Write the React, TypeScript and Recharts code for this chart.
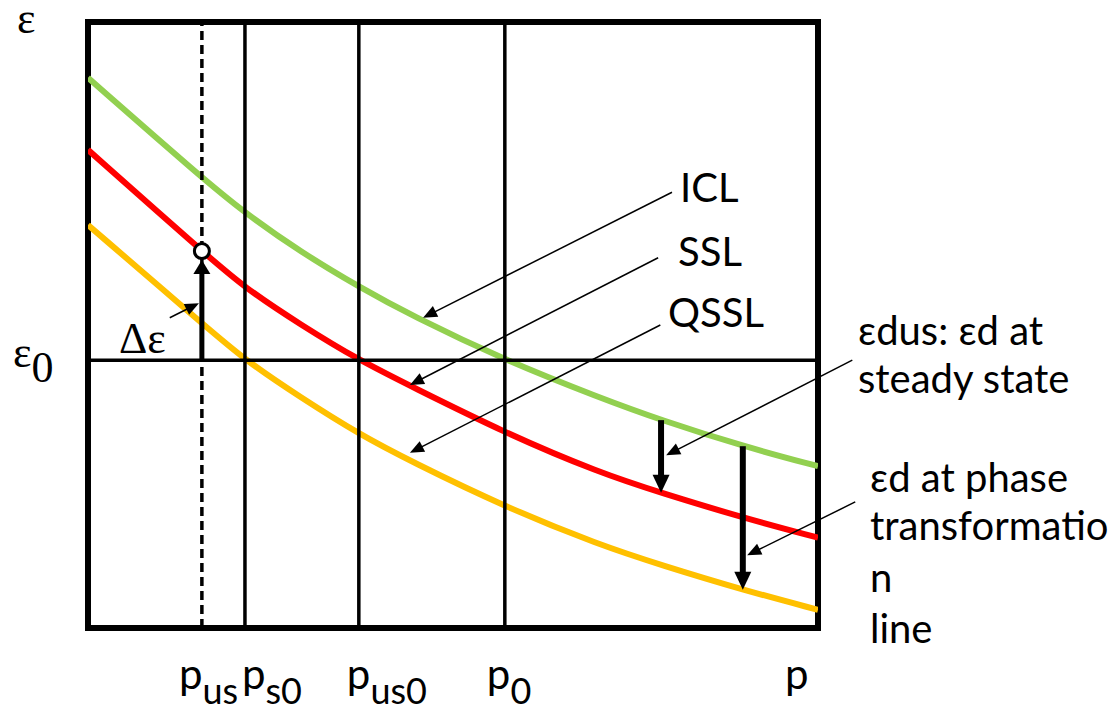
import React from 'react';
import {
  ComposedChart,
  Line,
  XAxis,
  YAxis,
  ReferenceLine,
  ReferenceArea,
  ReferenceDot,
} from 'recharts';

// ---- data (p axis 0..100, ε axis 0..100, schematic units) ----
const pSamples = [0, 15.6, 21.5, 29.2, 37.1, 44.4, 57.1, 70.1, 78.5, 89.7, 100];
const iclValues = [90.8, 74.3, 68.5, 62.0, 56.3, 51.5, 44.2, 38.0, 34.3, 30.0, 26.7];
const sslValues = [78.9, 62.2, 56.1, 50.0, 44.2, 39.8, 32.2, 25.6, 22.3, 18.2, 14.9];
const qsslValues = [66.5, 50.3, 44.2, 38.0, 32.0, 27.4, 20.0, 13.7, 10.4, 6.3, 3.0];

const pUs = 15.6;
const pS0 = 21.5;
const pUs0 = 37.1;
const p0 = 57.1;
const pMax = 100;
const eps0 = 44.2;

const xTickValues = [pUs, pS0, pUs0, p0, pMax];
const xTickMain = ['p', 'p', 'p', 'p', 'p'];
const xTickSub = ['us', 's0', 'us0', '0', ''];
const xTickShift = [-23, -3, -12, -18, -33];

// thin annotation pointers: [p, ε] start and tip
const pointerFrom = [
  [80.0, 71.9],
  [78.1, 61.1],
  [78.4, 50.0],
  [104.7, 44.2],
  [105.1, 20.8],
  [11.2, 51.2],
];
const pointerTo = [
  [45.9, 51.2],
  [44.1, 40.1],
  [44.1, 28.9],
  [79.2, 28.5],
  [90.3, 12.0],
  [15.2, 53.6],
];

const toRows = (vals: number[]) => pSamples.map((p, i) => ({ p, e: vals[i] }));
const iclData = toRows(iclValues);
const sslData = toRows(sslValues);
const qsslData = toRows(qsslValues);

const SANS = "Lato, 'Open Sans', 'DejaVu Sans', sans-serif";
const SERIF = "'Liberation Serif', 'DejaVu Serif', serif";

const makeArrow =
  (headLen: number, headW: number, width: number, gap = 0) =>
  (props: any) => {
    const { x1, y1, x2, y2 } = props;
    const dx = x2 - x1;
    const dy = y2 - y1;
    const len = Math.hypot(dx, dy) || 1;
    const ux = dx / len;
    const uy = dy / len;
    const tx = x2 - ux * gap;
    const ty = y2 - uy * gap;
    const bx = tx - ux * headLen;
    const by = ty - uy * headLen;
    const px = -uy;
    const py = ux;
    return (
      <g>
        <line
          x1={x1}
          y1={y1}
          x2={bx + ux * 2}
          y2={by + uy * 2}
          stroke="#000"
          strokeWidth={width}
        />
        <polygon
          points={`${tx},${ty} ${bx + (px * headW) / 2},${by + (py * headW) / 2} ${
            bx - (px * headW) / 2
          },${by - (py * headW) / 2}`}
          fill="#000"
        />
      </g>
    );
  };

const thickArrow = makeArrow(18, 17, 6);
const thickArrowGap = makeArrow(14, 17, 5, 9);
const thinArrow = makeArrow(14, 12, 1.5);

const XTick = (props: any) => {
  const { x, y, payload } = props;
  const i = xTickValues.indexOf(payload.value);
  if (i < 0) return null;
  return (
    <text x={x + xTickShift[i]} y={y + 61} fontFamily={SANS} fontSize={42} fill="#000">
      {xTickMain[i]}
      {xTickSub[i] ? (
        <tspan fontSize={36} dy={15}>
          {xTickSub[i]}
        </tspan>
      ) : null}
    </text>
  );
};

const YTick = (props: any) => {
  const { x, y } = props;
  return (
    <text x={x - 75} y={y + 7} fontFamily={SERIF} fontSize={44} fill="#000">
      ε
      <tspan dy={15}>0</tspan>
    </text>
  );
};

export default function App() {
  return (
    <div style={{ position: 'relative', width: 1117, height: 712, background: '#fff' }}>
      <style>{'body{margin:0;background:#fff}'}</style>
      <ComposedChart
        width={1117}
        height={712}
        margin={{ top: 22, right: 299, bottom: 0, left: 0 }}
      >
        <XAxis
          type="number"
          dataKey="p"
          domain={[0, 100]}
          ticks={xTickValues}
          interval={0}
          allowDataOverflow
          height={84}
          axisLine={false}
          tickLine={false}
          tickSize={0}
          tickMargin={0}
          tick={XTick}
        />
        <YAxis
          type="number"
          domain={[0, 100]}
          ticks={[eps0]}
          interval={0}
          allowDataOverflow
          width={88}
          axisLine={false}
          tickLine={false}
          tickSize={0}
          tickMargin={0}
          tick={YTick}
        />
        <Line
          data={iclData}
          dataKey="e"
          type="basis"
          stroke="#92D050"
          strokeWidth={6}
          dot={false}
          activeDot={false}
          isAnimationActive={false}
        />
        <Line
          data={sslData}
          dataKey="e"
          type="basis"
          stroke="#FF0000"
          strokeWidth={6}
          dot={false}
          activeDot={false}
          isAnimationActive={false}
        />
        <Line
          data={qsslData}
          dataKey="e"
          type="basis"
          stroke="#FFC000"
          strokeWidth={6}
          dot={false}
          activeDot={false}
          isAnimationActive={false}
        />
        <ReferenceLine x={pUs} stroke="#000" strokeWidth={3.5} strokeDasharray="9 5" ifOverflow="visible" />
        <ReferenceLine x={pS0} stroke="#000" strokeWidth={3.5} ifOverflow="visible" />
        <ReferenceLine x={pUs0} stroke="#000" strokeWidth={3.5} ifOverflow="visible" />
        <ReferenceLine x={p0} stroke="#000" strokeWidth={3.5} ifOverflow="visible" />
        <ReferenceLine y={eps0} stroke="#000" strokeWidth={3.5} ifOverflow="visible" />
        <ReferenceArea
          x1={0}
          x2={100}
          y1={0}
          y2={100}
          fill="none"
          fillOpacity={0}
          stroke="#000"
          strokeWidth={6}
          ifOverflow="visible"
        />
        {/* Δε arrow up to the SSL point */}
        <ReferenceLine
          segment={[
            { x: pUs, y: eps0 },
            { x: pUs, y: sslValues[1] },
          ]}
          ifOverflow="visible"
          shape={thickArrowGap}
        />
        {/* εdus arrow ICL -> SSL */}
        <ReferenceLine
          segment={[
            { x: pSamples[8], y: iclValues[8] },
            { x: pSamples[8], y: sslValues[8] },
          ]}
          ifOverflow="visible"
          shape={thickArrow}
        />
        {/* εd at phase transformation ICL -> QSSL */}
        <ReferenceLine
          segment={[
            { x: pSamples[9], y: iclValues[9] },
            { x: pSamples[9], y: qsslValues[9] },
          ]}
          ifOverflow="visible"
          shape={thickArrow}
        />
        {pointerFrom.map((f, i) => (
          <ReferenceLine
            key={`ptr-${i}`}
            segment={[
              { x: f[0], y: f[1] },
              { x: pointerTo[i][0], y: pointerTo[i][1] },
            ]}
            ifOverflow="visible"
            shape={thinArrow}
          />
        ))}
        <ReferenceDot
          x={pUs}
          y={sslValues[1]}
          r={7.5}
          fill="#fff"
          stroke="#000"
          strokeWidth={3}
          ifOverflow="visible"
        />
      </ComposedChart>
      <svg
        width={1117}
        height={712}
        style={{ position: 'absolute', left: 0, top: 0, pointerEvents: 'none' }}
      >
        <text x={17} y={33} fontFamily={SERIF} fontSize={44} fill="#000">ε</text>
        <text x={119} y={353} fontFamily={SERIF} fontSize={44} fill="#000">Δε</text>
        <g fontFamily={SANS} fontSize={40} fill="#000">
          <text x={680} y={202}>ICL</text>
          <text x={678} y={266}>SSL</text>
          <text x={668} y={327}>QSSL</text>
          <text x={858} y={345}>εdus: εd at</text>
          <text x={858} y={393}>steady state</text>
          <text x={870} y={492}>εd at phase</text>
          <text x={870} y={540}>transformatio</text>
          <text x={870} y={592}>n</text>
          <text x={870} y={643}>line</text>
        </g>
      </svg>
    </div>
  );
}
